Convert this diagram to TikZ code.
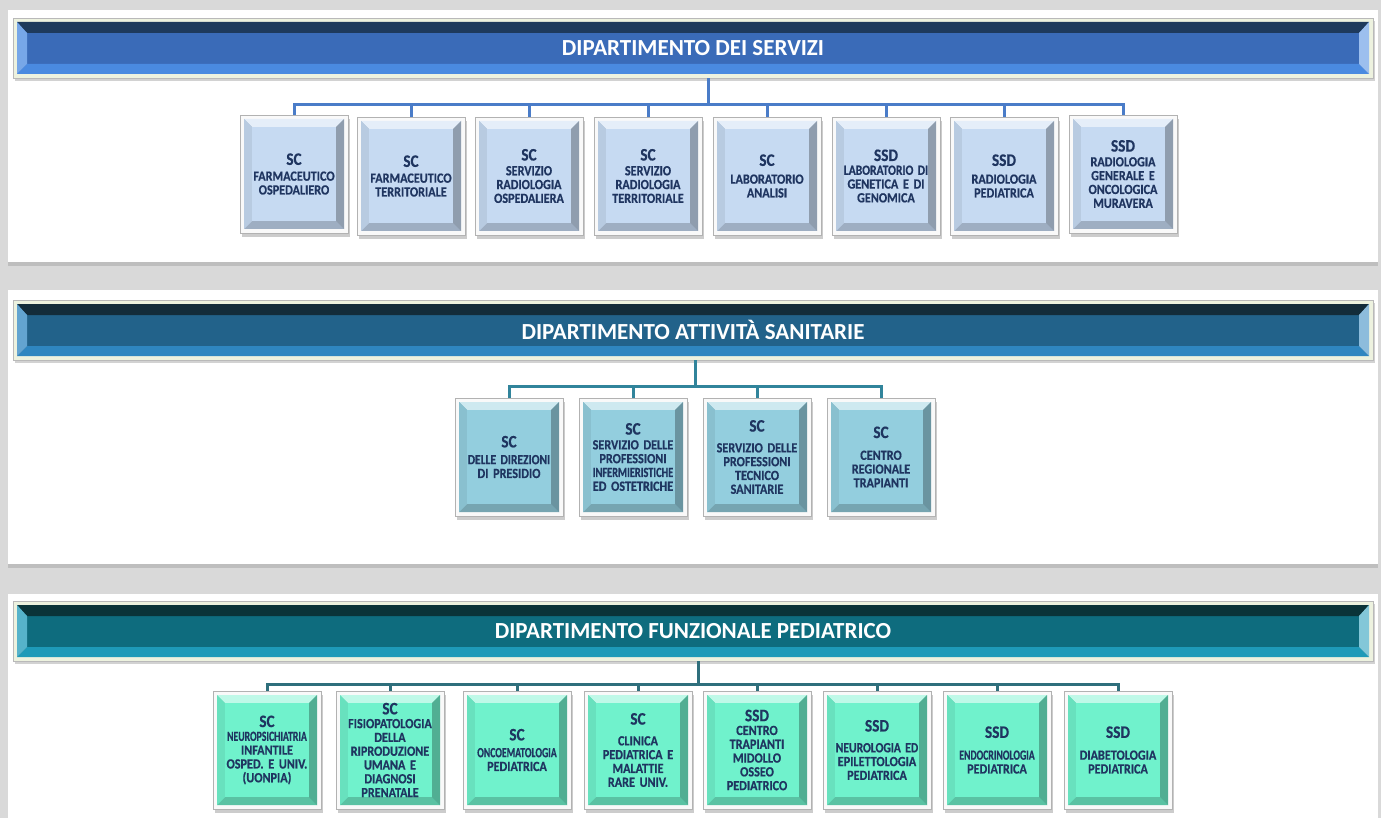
\documentclass[tikz,border=0pt]{standalone}
\usepackage{fontspec}
\usepackage{graphicx}
\setmainfont{Carlito}
\newfontfamily\boxfont{Carlito}[FakeStretch=0.87, BoldFeatures={FakeBold=0.6}]
\usetikzlibrary{shadows,calc}

\definecolor{srvdark}{HTML}{1E3A5C}
\definecolor{srvbar}{HTML}{3A6BB8}
\definecolor{srvlite}{HTML}{4A8AE0}
\definecolor{srvbox}{HTML}{C6DAF2}
\definecolor{srvline}{HTML}{4A7CC8}
\definecolor{sandark}{HTML}{132C3A}
\definecolor{sanbar}{HTML}{22628A}
\definecolor{sanlite}{HTML}{2F86C0}
\definecolor{sanbox}{HTML}{93CEDE}
\definecolor{sanline}{HTML}{31849B}
\definecolor{peddark}{HTML}{0A3338}
\definecolor{pedbar}{HTML}{0E6C7E}
\definecolor{pedlite}{HTML}{1E9AB8}
\definecolor{pedbox}{HTML}{70F2CC}
\definecolor{pedline}{HTML}{2F6F7C}
\definecolor{boxtext}{HTML}{1F3560}
\definecolor{barframe}{HTML}{EDF2DF}

\newcommand{\ukind}[1]{{\fontsize{17.5}{18}\selectfont #1}}
\newcommand{\squash}[2]{\scalebox{#1}[1]{#2}}

\begin{document}
\begin{tikzpicture}[x=1pt,y=-1pt,inner sep=0pt,
  bar/.style n args={3}{draw=gray!55, fill=barframe, minimum width=1360pt,
    minimum height=60pt, text=white, font=\bfseries\fontsize{23}{26}\selectfont,
    drop shadow={shadow xshift=2pt, shadow yshift=-3pt, opacity=.35},
    path picture={
      \fill[#2] let \p1=(path picture bounding box.south west), \p2=(path picture bounding box.north east) in
        (\x1+4pt,\y1+4pt) rectangle (\x2-4pt,\y2-4pt);
      \fill[#1] let \p1=(path picture bounding box.south west), \p2=(path picture bounding box.north east) in
        (\x1+4pt,\y2-4pt) -- (\x2-4pt,\y2-4pt) -- (\x2-14pt,\y2-15pt) -- (\x1+14pt,\y2-15pt) -- cycle;
      \fill[#3] let \p1=(path picture bounding box.south west), \p2=(path picture bounding box.north east) in
        (\x1+4pt,\y1+4pt) -- (\x2-4pt,\y1+4pt) -- (\x2-14pt,\y1+14pt) -- (\x1+14pt,\y1+14pt) -- cycle;
      \fill[#3!75!white] let \p1=(path picture bounding box.south west), \p2=(path picture bounding box.north east) in
        (\x1+4pt,\y1+4pt) -- (\x1+4pt,\y2-4pt) -- (\x1+14pt,\y2-15pt) -- (\x1+14pt,\y1+14pt) -- cycle;
      \fill[#3!55!white] let \p1=(path picture bounding box.south west), \p2=(path picture bounding box.north east) in
        (\x2-4pt,\y1+4pt) -- (\x2-4pt,\y2-4pt) -- (\x2-14pt,\y2-15pt) -- (\x2-14pt,\y1+14pt) -- cycle;
    }},
  unit/.style={draw=gray!60, fill=gray!5, minimum width=108pt, minimum height=118pt,
    text width=106pt, align=center, text=boxtext,
    font=\boxfont\bfseries\fontsize{14}{13.8}\selectfont,
    drop shadow={shadow xshift=2pt, shadow yshift=-4pt, opacity=.4},
    path picture={
      \fill[#1!85!black] let \p1=(path picture bounding box.south west), \p2=(path picture bounding box.north east) in
        (\x1+4pt,\y1+4pt) rectangle (\x2-4pt,\y2-4pt);
      \fill[#1!45!white] let \p1=(path picture bounding box.south west), \p2=(path picture bounding box.north east) in
        (\x1+4pt,\y2-4pt) -- (\x2-4pt,\y2-4pt) -- (\x2-12pt,\y2-12pt) -- (\x1+12pt,\y2-12pt) -- cycle;
      \fill[#1!80!black] let \p1=(path picture bounding box.south west), \p2=(path picture bounding box.north east) in
        (\x1+4pt,\y1+4pt) -- (\x2-4pt,\y1+4pt) -- (\x2-12pt,\y1+12pt) -- (\x1+12pt,\y1+12pt) -- cycle;
      \fill[#1!93!black] let \p1=(path picture bounding box.south west), \p2=(path picture bounding box.north east) in
        (\x1+4pt,\y1+4pt) -- (\x1+4pt,\y2-4pt) -- (\x1+12pt,\y2-12pt) -- (\x1+12pt,\y1+12pt) -- cycle;
      \fill[#1!72!black] let \p1=(path picture bounding box.south west), \p2=(path picture bounding box.north east) in
        (\x2-4pt,\y1+4pt) -- (\x2-4pt,\y2-4pt) -- (\x2-12pt,\y2-12pt) -- (\x2-12pt,\y1+12pt) -- cycle;
      \fill[#1] let \p1=(path picture bounding box.south west), \p2=(path picture bounding box.north east) in
        (\x1+12pt,\y1+12pt) rectangle (\x2-12pt,\y2-12pt);
    }},
  link/.style={draw=#1, line width=3pt}]

\useasboundingbox (0,0) rectangle (1381,818);
\fill[gray!30] (0,0) rectangle (1381,818);

% panels
\fill[white, drop shadow={shadow xshift=0pt, shadow yshift=-4pt, opacity=.3}] (8,10) rectangle (1378,262);
\fill[white, drop shadow={shadow xshift=0pt, shadow yshift=-4pt, opacity=.3}] (8,290) rectangle (1378,564);
\fill[white, drop shadow={shadow xshift=0pt, shadow yshift=-4pt, opacity=.3}] (8,594) rectangle (1378,830);

% dipartimento dei servizi
\node[bar={srvdark}{srvbar}{srvlite}] (srv) at (693,48) {DIPARTIMENTO DEI SERVIZI};
\coordinate (bus1) at (708,105);

\node[unit=srvbox] (srv1) at (294,174) {\ukind{SC}\\[2pt] FARMACEUTICO\\OSPEDALIERO};
\node[unit=srvbox] (srv2) at (411,176) {\ukind{SC}\\[2pt] FARMACEUTICO\\TERRITORIALE};
\node[unit=srvbox] (srv3) at (529,176) {\ukind{SC}\\[1pt] SERVIZIO\\RADIOLOGIA\\OSPEDALIERA};
\node[unit=srvbox] (srv4) at (648,176) {\ukind{SC}\\[1pt] SERVIZIO\\RADIOLOGIA\\TERRITORIALE};
\node[unit=srvbox] (srv5) at (767,176) {\ukind{SC}\\[4pt] LABORATORIO\\ANALISI};
\node[unit=srvbox] (srv6) at (886,176) {\ukind{SSD}\\ \squash{.95}{LABORATORIO DI}\\GENETICA E DI\\GENOMICA};
\node[unit=srvbox] (srv7) at (1004,176) {\ukind{SSD}\\[4pt] RADIOLOGIA\\PEDIATRICA};
\node[unit=srvbox] (srv8) at (1123,174) {\ukind{SSD}\\[1pt] RADIOLOGIA\\GENERALE E\\ONCOLOGICA\\MURAVERA};

\draw[link=srvline] (bus1 |- srv.south) -- (bus1);
\draw[link=srvline] (srv1.north) -- (srv1.north |- bus1) -- (srv8.north |- bus1) -- (srv8.north);
\foreach \i in {2,...,7}
  \draw[link=srvline] (srv\i.north) -- (srv\i.north |- bus1);

% dipartimento attivita sanitarie
\node[bar={sandark}{sanbar}{sanlite}] (san) at (693,330) {DIPARTIMENTO ATTIVITÀ SANITARIE};
\coordinate (bus2) at (695,386);

\node[unit=sanbox] (san1) at (509,457) {\ukind{SC}\\[3pt] \squash{.95}{DELLE DIREZIONI}\\DI PRESIDIO};
\node[unit=sanbox] (san2) at (633,457) {\ukind{SC}\\[1pt] SERVIZIO DELLE\\PROFESSIONI\\\squash{.85}{INFERMIERISTICHE}\\ED OSTETRICHE};
\node[unit=sanbox] (san3) at (757,457) {\ukind{SC}\\[7pt] SERVIZIO DELLE\\PROFESSIONI\\TECNICO\\SANITARIE};
\node[unit=sanbox] (san4) at (881,457) {\ukind{SC}\\[8pt] CENTRO\\REGIONALE\\TRAPIANTI};

\draw[link=sanline] (bus2 |- san.south) -- (bus2);
\draw[link=sanline] (san1.north) -- (san1.north |- bus2) -- (san4.north |- bus2) -- (san4.north);
\foreach \i in {2,3}
  \draw[link=sanline] (san\i.north) -- (san\i.north |- bus2);

% dipartimento funzionale pediatrico
\node[bar={peddark}{pedbar}{pedlite}] (ped) at (693,631) {DIPARTIMENTO FUNZIONALE PEDIATRICO};
\coordinate (bus3) at (698,684);

\node[unit=pedbox] (ped1) at (267,750) {\ukind{SC}\\ \squash{.8}{NEUROPSICHIATRIA}\\INFANTILE\\OSPED. E UNIV.\\(UONPIA)};
\node[unit=pedbox] (ped2) at (390,750) {\ukind{SC}\\ FISIOPATOLOGIA\\DELLA\\RIPRODUZIONE\\UMANA E\\DIAGNOSI\\PRENATALE};
\node[unit=pedbox] (ped3) at (517,750) {\ukind{SC}\\[3pt] \squash{.8}{ONCOEMATOLOGIA}\\PEDIATRICA};
\node[unit=pedbox] (ped4) at (638,750) {\ukind{SC}\\[7pt] CLINICA\\PEDIATRICA E\\MALATTIE\\RARE UNIV.};
\node[unit=pedbox] (ped5) at (757,750) {\ukind{SSD}\\ CENTRO\\TRAPIANTI\\MIDOLLO\\OSSEO\\PEDIATRICO};
\node[unit=pedbox] (ped6) at (877,750) {\ukind{SSD}\\[7pt] \squash{.95}{NEUROLOGIA ED}\\EPILETTOLOGIA\\PEDIATRICA};
\node[unit=pedbox] (ped7) at (997,750) {\ukind{SSD}\\[8pt] \squash{.8}{ENDOCRINOLOGIA}\\PEDIATRICA};
\node[unit=pedbox] (ped8) at (1118,750) {\ukind{SSD}\\[8pt] DIABETOLOGIA\\PEDIATRICA};

\draw[link=pedline] (bus3 |- ped.south) -- (bus3);
\draw[link=pedline] (ped1.north) -- (ped1.north |- bus3) -- (ped8.north |- bus3) -- (ped8.north);
\foreach \i in {2,...,7}
  \draw[link=pedline] (ped\i.north) -- (ped\i.north |- bus3);

\end{tikzpicture}
\end{document}
